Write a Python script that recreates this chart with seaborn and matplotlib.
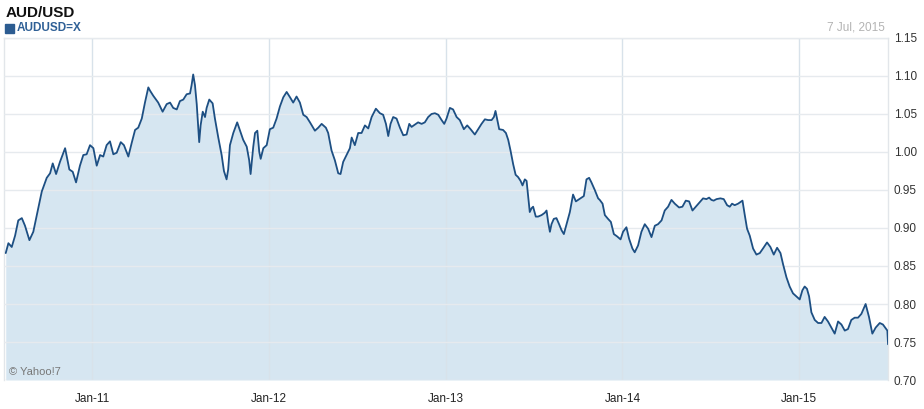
import numpy as np
import pandas as pd
import matplotlib.pyplot as plt
import matplotlib.dates as mdates
from matplotlib.patches import Rectangle
import seaborn as sns

# AUD/USD close (time as decimal year)
years = [
    2010.510, 2010.525, 2010.544, 2010.563, 2010.581, 2010.601, 2010.619, 2010.644, 2010.666, 2010.694,
    2010.714, 2010.742, 2010.761, 2010.776, 2010.795, 2010.817, 2010.846, 2010.870, 2010.889, 2010.908,
    2010.930, 2010.949, 2010.968, 2010.987, 2011.006, 2011.025, 2011.044, 2011.062, 2011.081, 2011.100,
    2011.119, 2011.138, 2011.161, 2011.179, 2011.204, 2011.223, 2011.242, 2011.260, 2011.280, 2011.298,
    2011.317, 2011.326, 2011.345, 2011.373, 2011.398, 2011.421, 2011.440, 2011.458, 2011.478, 2011.496,
    2011.515, 2011.534, 2011.553, 2011.562, 2011.571, 2011.581, 2011.591, 2011.605, 2011.613, 2011.625,
    2011.638, 2011.647, 2011.662, 2011.681, 2011.694, 2011.713, 2011.732, 2011.745, 2011.760, 2011.769,
    2011.779, 2011.798, 2011.820, 2011.836, 2011.854, 2011.874, 2011.888, 2011.896, 2011.911, 2011.921,
    2011.934, 2011.945, 2011.953, 2011.968, 2011.987, 2012.005, 2012.024, 2012.043, 2012.062, 2012.081,
    2012.100, 2012.119, 2012.137, 2012.156, 2012.175, 2012.194, 2012.213, 2012.232, 2012.260, 2012.279,
    2012.298, 2012.322, 2012.335, 2012.354, 2012.373, 2012.392, 2012.405, 2012.420, 2012.439, 2012.458,
    2012.468, 2012.486, 2012.505, 2012.524, 2012.543, 2012.562, 2012.581, 2012.605, 2012.628, 2012.646,
    2012.662, 2012.675, 2012.688, 2012.703, 2012.722, 2012.741, 2012.760, 2012.779, 2012.794, 2012.807,
    2012.826, 2012.844, 2012.864, 2012.882, 2012.901, 2012.920, 2012.939, 2012.958, 2012.977, 2012.992,
    2013.005, 2013.024, 2013.042, 2013.062, 2013.080, 2013.103, 2013.122, 2013.141, 2013.165, 2013.184,
    2013.203, 2013.222, 2013.240, 2013.260, 2013.273, 2013.282, 2013.291, 2013.303, 2013.325, 2013.341,
    2013.354, 2013.367, 2013.382, 2013.396, 2013.410, 2013.424, 2013.435, 2013.448, 2013.458, 2013.467,
    2013.476, 2013.486, 2013.495, 2013.510, 2013.523, 2013.543, 2013.561, 2013.571, 2013.580, 2013.590,
    2013.599, 2013.612, 2013.627, 2013.642, 2013.656, 2013.669, 2013.684, 2013.703, 2013.721, 2013.737,
    2013.750, 2013.769, 2013.782, 2013.797, 2013.812, 2013.825, 2013.844, 2013.863, 2013.872, 2013.888,
    2013.901, 2013.919, 2013.935, 2013.952, 2013.970, 2013.990, 2014.004, 2014.023, 2014.038, 2014.057,
    2014.070, 2014.089, 2014.108, 2014.127, 2014.146, 2014.165, 2014.184, 2014.202, 2014.222, 2014.240,
    2014.259, 2014.278, 2014.297, 2014.321, 2014.340, 2014.359, 2014.378, 2014.397, 2014.416, 2014.438,
    2014.457, 2014.476, 2014.491, 2014.504, 2014.517, 2014.533, 2014.555, 2014.574, 2014.593, 2014.608,
    2014.621, 2014.636, 2014.655, 2014.680, 2014.693, 2014.706, 2014.721, 2014.740, 2014.759, 2014.778,
    2014.796, 2014.819, 2014.838, 2014.857, 2014.876, 2014.895, 2014.910, 2014.929, 2014.947, 2014.966,
    2014.985, 2015.004, 2015.019, 2015.032, 2015.045, 2015.057, 2015.070, 2015.089, 2015.108, 2015.127,
    2015.145, 2015.164, 2015.183, 2015.202, 2015.221, 2015.240, 2015.259, 2015.277, 2015.296, 2015.315,
    2015.334, 2015.353, 2015.377, 2015.396, 2015.415, 2015.434, 2015.457, 2015.475, 2015.494, 2015.500,
    2015.504,
]
rates = [
    0.867, 0.880, 0.875, 0.890, 0.910, 0.913, 0.903, 0.884, 0.895, 0.926,
    0.948, 0.966, 0.972, 0.985, 0.971, 0.987, 1.005, 0.977, 0.974, 0.960,
    0.982, 0.996, 0.997, 1.009, 1.005, 0.982, 0.996, 0.994, 1.009, 1.014,
    0.997, 0.999, 1.013, 1.009, 0.994, 1.012, 1.029, 1.032, 1.044, 1.065,
    1.085, 1.081, 1.074, 1.065, 1.053, 1.063, 1.065, 1.058, 1.056, 1.067,
    1.069, 1.076, 1.077, 1.088, 1.102, 1.088, 1.063, 1.013, 1.035, 1.053,
    1.046, 1.058, 1.069, 1.064, 1.044, 1.019, 0.996, 0.975, 0.964, 0.977,
    1.009, 1.025, 1.039, 1.028, 1.016, 1.007, 0.989, 0.971, 1.007, 1.025,
    1.028, 1.000, 0.991, 1.005, 1.009, 1.030, 1.032, 1.044, 1.060, 1.072,
    1.079, 1.072, 1.065, 1.073, 1.065, 1.049, 1.046, 1.039, 1.028, 1.032,
    1.037, 1.032, 1.025, 1.002, 0.989, 0.972, 0.971, 0.987, 0.996, 1.005,
    1.019, 1.009, 1.025, 1.025, 1.035, 1.031, 1.046, 1.057, 1.051, 1.049,
    1.037, 1.021, 1.037, 1.046, 1.044, 1.032, 1.022, 1.023, 1.037, 1.033,
    1.036, 1.039, 1.037, 1.039, 1.046, 1.050, 1.051, 1.049, 1.042, 1.037,
    1.044, 1.058, 1.056, 1.046, 1.042, 1.030, 1.035, 1.030, 1.023, 1.030,
    1.037, 1.043, 1.042, 1.042, 1.046, 1.054, 1.044, 1.030, 1.029, 1.025,
    1.016, 1.002, 0.984, 0.970, 0.967, 0.962, 0.956, 0.964, 0.962, 0.942,
    0.921, 0.926, 0.928, 0.915, 0.915, 0.917, 0.920, 0.923, 0.908, 0.895,
    0.905, 0.912, 0.913, 0.905, 0.897, 0.892, 0.905, 0.921, 0.944, 0.935,
    0.937, 0.940, 0.942, 0.964, 0.966, 0.960, 0.950, 0.939, 0.937, 0.932,
    0.917, 0.912, 0.908, 0.892, 0.889, 0.885, 0.895, 0.901, 0.886, 0.873,
    0.868, 0.877, 0.895, 0.905, 0.899, 0.888, 0.903, 0.905, 0.910, 0.923,
    0.928, 0.937, 0.932, 0.927, 0.928, 0.936, 0.935, 0.923, 0.928, 0.934,
    0.939, 0.938, 0.940, 0.937, 0.936, 0.938, 0.939, 0.938, 0.930, 0.928,
    0.932, 0.930, 0.932, 0.936, 0.917, 0.899, 0.890, 0.873, 0.865, 0.867,
    0.873, 0.881, 0.875, 0.865, 0.874, 0.867, 0.852, 0.835, 0.823, 0.814,
    0.810, 0.806, 0.818, 0.823, 0.820, 0.810, 0.789, 0.779, 0.775, 0.775,
    0.783, 0.777, 0.769, 0.761, 0.777, 0.773, 0.765, 0.767, 0.779, 0.782,
    0.782, 0.787, 0.800, 0.783, 0.761, 0.769, 0.775, 0.773, 0.767, 0.765,
    0.747,
]
y_ticks = [0.70, 0.75, 0.80, 0.85, 0.90, 0.95, 1.00, 1.05, 1.10, 1.15]


def year_to_date(y):
    return pd.Timestamp('2011-01-01') + pd.to_timedelta((np.asarray(y) - 2011) * 365.25, unit='D')


df = pd.DataFrame({'date': year_to_date(years), 'rate': rates})

sns.set_style('white')
plt.rcParams['font.family'] = ['Liberation Sans', 'DejaVu Sans']

fig = plt.figure(figsize=(9.24, 4.09), dpi=100)
ax = fig.add_axes([0.0043, 0.0709, 0.957, 0.8362])

ax.fill_between(df['date'], 0.70, df['rate'], color='#d6e6f1', lw=0, zorder=1)
sns.lineplot(data=df, x='date', y='rate', ax=ax, color='#1d4f83', lw=1.3, zorder=3)

ax.set_ylim(0.70, 1.15)
ax.set_xlim(year_to_date(2010.50), year_to_date(2015.505))
ax.set_xlabel('')
ax.set_ylabel('')

ax.yaxis.tick_right()
ax.set_yticks(y_ticks)
ax.set_yticklabels([f'{v:.2f}' for v in y_ticks])
ax.xaxis.set_major_locator(mdates.YearLocator())
ax.xaxis.set_major_formatter(mdates.DateFormatter('%b-%y'))
ax.xaxis.set_minor_locator(mdates.MonthLocator(bymonth=[4, 7, 10]))

ax.grid(axis='y', color='#e6eaee', lw=1, zorder=2)
ax.grid(axis='x', which='major', color='#d8e2ea', lw=1, zorder=2)
ax.set_axisbelow(False)

for side in ['left', 'right', 'top']:
    ax.spines[side].set_color('#e2e6ea')
    ax.spines[side].set_linewidth(1)
ax.spines['bottom'].set_visible(False)

ax.tick_params(axis='y', length=0, pad=4, labelsize=8.5, labelcolor='#333333')
ax.tick_params(axis='x', which='major', length=5, color='#d8e2ea', pad=4,
               labelsize=8.5, labelcolor='#222222')
ax.tick_params(axis='x', which='minor', length=3, color='#dde3e8')

fig.text(0.006, 0.969, 'AUD/USD', fontsize=11, fontweight='bold', color='#111111', va='center')
fig.patches.append(Rectangle((0.0055, 0.9195), 0.0092, 0.022, transform=fig.transFigure,
                             color='#2c5c91', figure=fig))
fig.text(0.018, 0.931, 'AUDUSD=X', fontsize=8.5, fontweight='bold', color='#2f6096', va='center')
fig.text(0.958, 0.933, '7 Jul, 2015', fontsize=8.5, color='#b3b3b3', ha='right', va='center')
fig.text(0.010, 0.0905, '\u00a9 Yahoo!7', fontsize=8, color='#777777', va='center')

plt.savefig('out.png', dpi=100)
